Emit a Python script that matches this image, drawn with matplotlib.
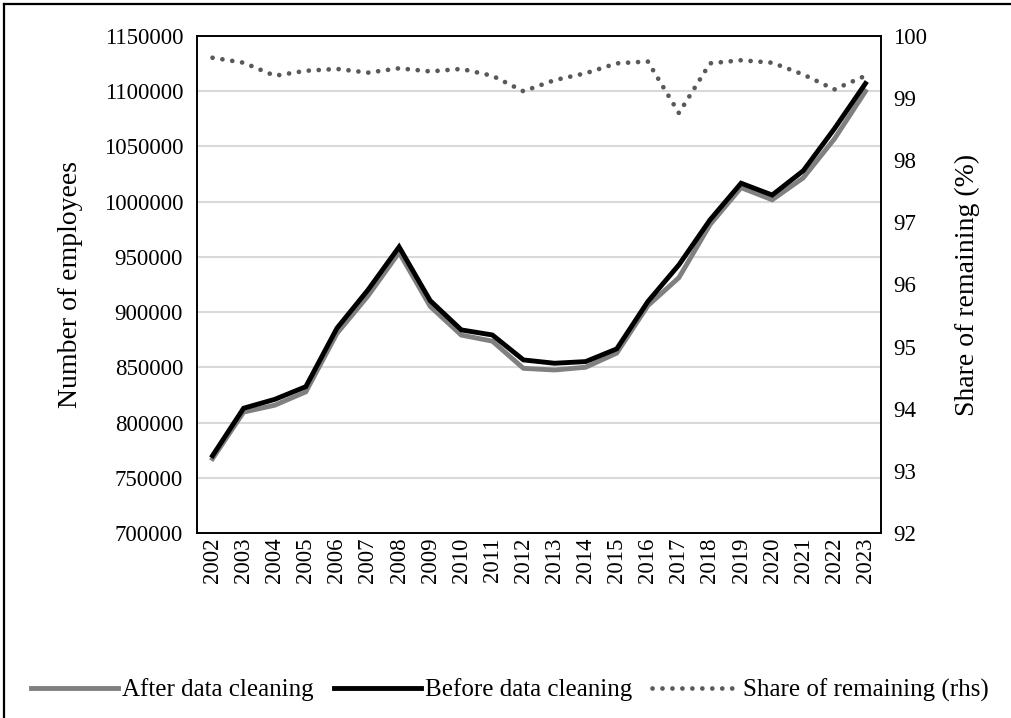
import numpy as np
import matplotlib
matplotlib.use("Agg")
import matplotlib.pyplot as plt
from matplotlib.lines import Line2D

plt.rcParams['font.family'] = ['Liberation Serif', 'DejaVu Serif']

years = [str(y) for y in range(2002, 2024)]
before = [770000, 813000, 821000, 832500, 885400, 920100, 959000, 910400, 883900, 879300,
          856700, 853700, 855200, 866700, 909500, 942800, 983500, 1016700, 1006000, 1028000,
          1066000, 1107000]
after = [767300, 809500, 815700, 827800, 880700, 914700, 954000, 905200, 879200, 873700,
         849100, 847600, 850100, 862900, 905800, 931200, 979200, 1012700, 1001700, 1021600,
         1056800, 1099900]
share = [99.65, 99.57, 99.36, 99.44, 99.47, 99.41, 99.48, 99.43, 99.47, 99.36,
         99.11, 99.29, 99.40, 99.56, 99.59, 98.76, 99.56, 99.61, 99.57, 99.38,
         99.14, 99.36]

fig = plt.figure(figsize=(10.11, 7.18), dpi=100)
ax = fig.add_axes([197/1011, 1-533/718, (881-197)/1011, (533-36)/718])
x = np.arange(len(years))

ax.plot(x, after, color='#808080', lw=3.5, solid_joinstyle='miter', label='After data cleaning', zorder=3)
ax.plot(x, before, color='black', lw=3.5, solid_joinstyle='miter', label='Before data cleaning', zorder=4)
ax.set_ylim(700000, 1150000)
ax.set_yticks(np.arange(700000, 1150001, 50000))
ax.ticklabel_format(axis='y', style='plain', useOffset=False)
ax.set_xlim(-0.5, len(years)-0.5)
ax.set_xticks(x)
ax.set_xticklabels(years, rotation=90)
ax.grid(axis='y', color='#d9d9d9', lw=1.5)
ax.set_axisbelow(True)
ax.tick_params(axis='both', length=0, labelsize=16.5)
ax.tick_params(axis='y', pad=10)
ax.tick_params(axis='x', pad=3)
ax.set_ylabel('Number of employees', fontsize=20, labelpad=15)
for s in ax.spines.values():
    s.set_linewidth(1.2)

ax2 = ax.twinx()
ax2.plot(x, share, color='#595959', lw=3.4, linestyle=(0, (0.01, 2.1)), dash_capstyle='round',
         label='Share of remaining (rhs)', zorder=5)
ax2.set_ylim(92, 100)
ax2.set_yticks(np.arange(92, 101, 1))
ax2.tick_params(axis='y', length=0, labelsize=16.5, pad=9)
ax2.set_ylabel('Share of remaining (%)', fontsize=20, labelpad=20)
for s in ax2.spines.values():
    s.set_linewidth(1.2)

h1, l1 = ax.get_legend_handles_labels()
h2, l2 = ax2.get_legend_handles_labels()
fig.legend(h1 + h2, l1 + l2, loc='center', bbox_to_anchor=(510/1011, 1-690/718), ncol=3,
           frameon=False, fontsize=18, handlelength=3.5, handletextpad=0.15, columnspacing=0.8)

# chart area border (left and top edges visible)
fig.add_artist(Line2D([3.5/1011, 3.5/1011], [0, 1-3.5/718], transform=fig.transFigure, color='black', lw=1.6))
fig.add_artist(Line2D([3.5/1011, 1], [1-3.5/718, 1-3.5/718], transform=fig.transFigure, color='black', lw=1.6))

fig.savefig('out.png', dpi=100)
